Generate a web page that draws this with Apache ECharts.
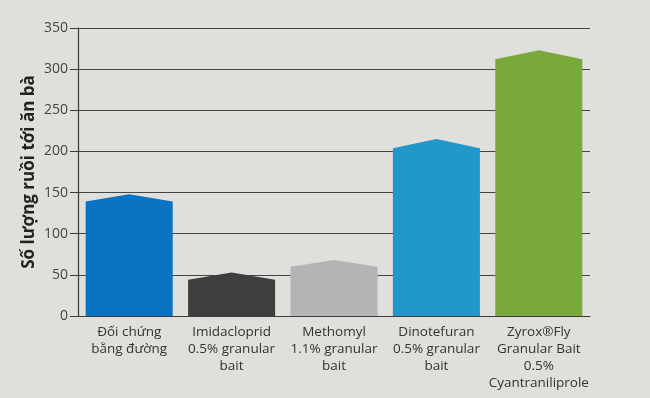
<!DOCTYPE html>
<html>
<head>
<meta charset="utf-8">
<script src="https://cdn.jsdelivr.net/npm/echarts@6/dist/echarts.min.js"></script>
<style>
  html, body { margin: 0; padding: 0; background: #dfdfdb; }
  #chart { width: 650px; height: 398px; }
</style>
</head>
<body>
<div id="chart"></div>
<script>
var categories = [
    'Đối chứng\nbằng đường',
    'Imidacloprid\n0.5% granular\nbait',
    'Methomyl\n1.1% granular\nbait',
    'Dinotefuran\n0.5% granular\nbait',
    'Zyrox®Fly\nGranular Bait\n0.5%\nCyantraniliprole'
];
// bar shoulder height and the top of the peaked cap
var values = [139, 44, 60, 204, 312];
var peaks = [148, 53, 68, 215, 323];
var barColors = ['#0b73c4', '#3e3e3f', '#b4b4b4', '#2297cb', '#79a83b'];

var data = [];
for (var i = 0; i < categories.length; i++) {
    data.push([i, values[i], peaks[i]]);
}

var myChart = echarts.init(document.getElementById('chart'));

myChart.setOption({
    backgroundColor: '#dfdfdb',
    textStyle: { fontFamily: 'Open Sans' },
    grid: { left: 78, right: 60, top: 28, bottom: 82 },
    xAxis: {
        type: 'category',
        data: categories,
        axisLine: { lineStyle: { color: '#3a3a3a', width: 1.2 } },
        axisTick: { show: false },
        axisLabel: {
            interval: 0,
            color: '#333',
            fontSize: 13.5,
            lineHeight: 17,
            margin: 8,
            verticalAlign: 'top'
        }
    },
    yAxis: {
        type: 'value',
        min: 0,
        max: 350,
        interval: 50,
        name: 'Số lượng ruồi tới ăn bà',
        nameLocation: 'middle',
        nameGap: 40,
        nameMoveOverlap: false,
        nameTextStyle: { fontSize: 17, fontWeight: 'bold', color: '#222' },
        axisLine: { show: true, lineStyle: { color: '#3a3a3a', width: 1.2 } },
        axisTick: { show: true, length: 8, lineStyle: { color: '#3a3a3a' } },
        axisLabel: { color: '#444', fontSize: 14, margin: 10 },
        splitLine: { lineStyle: { color: '#444', width: 1.2 } }
    },
    series: [{
        type: 'custom',
        data: data,
        encode: { x: 0, y: [1, 2] },
        renderItem: function (params, api) {
            var idx = api.value(0);
            var base = api.coord([idx, 0]);
            var shoulder = api.coord([idx, api.value(1)]);
            var apex = api.coord([idx, api.value(2)]);
            var w = api.size([1, 0])[0] * 0.85;
            var x0 = base[0] - w / 2;
            var x1 = base[0] + w / 2;
            return {
                type: 'polygon',
                shape: {
                    points: [
                        [x0, base[1]],
                        [x0, shoulder[1]],
                        [base[0], apex[1]],
                        [x1, shoulder[1]],
                        [x1, base[1]]
                    ]
                },
                style: { fill: barColors[idx] }
            };
        }
    }]
});
</script>
</body>
</html>
